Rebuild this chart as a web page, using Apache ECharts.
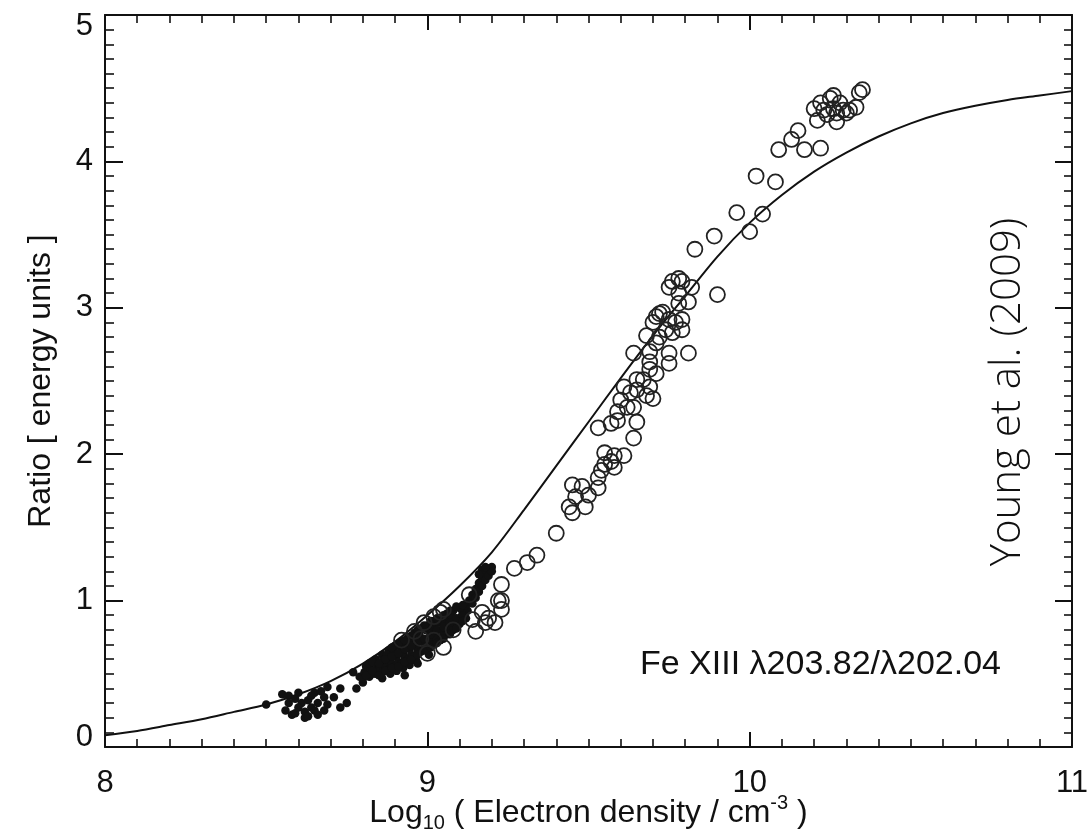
<!DOCTYPE html>
<html><head><meta charset="utf-8">
<script src="https://cdn.jsdelivr.net/npm/echarts@6/dist/echarts.min.js"></script>
<style>html,body{margin:0;padding:0;background:#fff}#c{width:1092px;height:832px}</style>
</head><body><div id="c"></div>
<script>
// Theoretical ratio curve (log10 Ne, ratio)
const curveX = [8.0,8.1,8.2,8.3,8.4,8.5,8.6,8.7,8.8,8.9,9.0,9.1,9.2,9.3,9.4,9.5,9.6,9.7,9.8,9.9,10.0,10.1,10.2,10.3,10.4,10.5,10.6,10.7,10.8,10.9,11.0];
const curveY = [0.08,0.11,0.15,0.19,0.24,0.29,0.36,0.45,0.57,0.72,0.90,1.10,1.33,1.62,1.92,2.22,2.52,2.81,3.08,3.35,3.58,3.77,3.93,4.06,4.17,4.26,4.33,4.38,4.42,4.45,4.48];

// Filled dots
const solidDots = [
 [8.50,0.29],[8.55,0.36],[8.57,0.35],[8.56,0.25],[8.58,0.22],[8.59,0.23],[8.60,0.37],[8.61,0.30],[8.62,0.24],[8.62,0.20],
 [8.63,0.32],[8.64,0.27],[8.65,0.25],[8.65,0.37],[8.66,0.30],[8.67,0.38],[8.68,0.34],[8.69,0.41],[8.69,0.29],[8.57,0.30],
 [8.60,0.27],[8.63,0.21],[8.66,0.22],[8.71,0.34],[8.73,0.40],[8.73,0.27],[8.75,0.30],[8.59,0.33],[8.64,0.35],[8.68,0.25],
 [8.78,0.40],[8.80,0.44],[8.77,0.51],[8.79,0.48],
 [8.80,0.47],[8.805,0.51],[8.81,0.55],
 [8.82,0.48],[8.825,0.53],[8.82,0.57],[8.83,0.50],
 [8.84,0.50],[8.845,0.55],[8.84,0.60],[8.85,0.53],[8.845,0.58],
 [8.86,0.51],[8.865,0.57],[8.86,0.63],[8.87,0.55],[8.865,0.60],[8.86,0.47],
 [8.88,0.53],[8.885,0.60],[8.88,0.66],[8.89,0.57],[8.875,0.63],[8.885,0.50],
 [8.90,0.55],[8.905,0.62],[8.90,0.69],[8.91,0.58],[8.895,0.66],[8.905,0.52],
 [8.92,0.57],[8.925,0.64],[8.92,0.72],[8.93,0.61],[8.915,0.69],[8.925,0.54],
 [8.94,0.60],[8.945,0.67],[8.94,0.75],[8.95,0.63],[8.935,0.71],[8.945,0.56],
 [8.96,0.62],[8.965,0.69],[8.96,0.78],[8.97,0.66],[8.955,0.74],[8.965,0.59],
 [8.98,0.65],[8.985,0.72],[8.98,0.81],[8.99,0.68],[8.975,0.77],
 [9.00,0.67],[9.005,0.74],[9.00,0.83],[9.01,0.71],[8.995,0.80],[9.005,0.63],
 [9.02,0.70],[9.025,0.77],[9.02,0.86],[9.03,0.74],[9.015,0.82],
 [9.04,0.73],[9.045,0.80],[9.04,0.88],[9.05,0.77],[9.035,0.85],
 [9.06,0.77],[9.065,0.83],[9.06,0.91],[9.07,0.80],[9.055,0.87],
 [9.08,0.80],[9.085,0.86],[9.08,0.93],[9.09,0.83],[9.075,0.90],
 [9.10,0.84],[9.105,0.89],[9.10,0.95],[9.11,0.92],
 [9.12,0.88],[9.125,0.93],[9.12,0.97],
 [8.81,0.49],[8.83,0.52],[8.83,0.58],[8.85,0.57],[8.85,0.49],[8.87,0.60],[8.87,0.52],[8.89,0.62],[8.89,0.54],[8.89,0.68],
 [8.91,0.64],[8.91,0.55],[8.91,0.70],[8.93,0.67],[8.93,0.58],[8.93,0.73],[8.95,0.69],[8.95,0.60],[8.95,0.76],[8.97,0.72],
 [8.97,0.63],[8.97,0.80],[8.99,0.74],[8.99,0.66],[8.99,0.83],[9.01,0.77],[9.01,0.68],[9.01,0.86],[9.03,0.80],[9.03,0.71],
 [9.03,0.88],[9.05,0.82],[9.05,0.74],[9.05,0.90],[9.07,0.85],[9.07,0.77],[9.07,0.93],[9.09,0.88],[9.09,0.81],[9.09,0.96],
 [9.11,0.90],[9.11,0.86],[9.11,0.97],
 [8.97,0.57],[8.93,0.49],
 [9.13,1.00],[9.14,1.04],[9.14,0.98],[9.15,1.08],[9.15,1.02],[9.16,1.12],[9.16,1.06],[9.17,1.16],[9.17,1.10],
 [9.18,1.19],[9.18,1.14],[9.19,1.22],[9.19,1.17],[9.20,1.23],[9.20,1.20],[9.17,1.21],[9.16,1.18],[9.18,1.23]
];

// Open circles
const openCircles = [
 [8.96,0.79],[8.92,0.73],[8.98,0.74],[8.99,0.85],[9.00,0.64],[9.02,0.89],[9.02,0.73],[9.04,0.92],[9.05,0.94],[9.05,0.68],
 [9.08,0.80],[9.13,1.04],[9.14,0.87],[9.15,0.79],[9.17,0.92],[9.18,0.85],[9.19,0.88],[9.21,0.85],[9.22,1.00],[9.23,1.00],
 [9.23,0.94],[9.23,1.11],[9.27,1.22],[9.31,1.26],[9.34,1.31],[9.40,1.46],
 [9.45,1.60],[9.44,1.64],[9.45,1.79],[9.46,1.71],[9.49,1.64],[9.48,1.78],[9.50,1.72],[9.53,1.77],[9.54,1.89],[9.53,1.84],
 [9.55,1.93],[9.55,2.01],[9.57,1.95],[9.58,1.99],[9.61,1.99],[9.58,1.91],[9.53,2.18],[9.57,2.21],[9.59,2.23],[9.59,2.29],
 [9.60,2.37],[9.64,2.11],[9.65,2.22],[9.61,2.46],[9.63,2.42],[9.65,2.44],[9.68,2.40],[9.70,2.38],[9.69,2.46],[9.64,2.32],[9.62,2.32],
 [9.65,2.51],[9.67,2.51],[9.71,2.55],[9.69,2.58],[9.69,2.63],[9.75,2.62],[9.81,2.69],[9.75,2.69],[9.69,2.70],[9.64,2.69],
 [9.71,2.76],[9.72,2.80],[9.68,2.81],[9.74,2.85],[9.76,2.83],[9.79,2.85],[9.79,2.92],[9.77,2.90],[9.75,2.92],[9.70,2.90],
 [9.73,2.97],[9.71,2.94],[9.72,2.96],[9.78,3.03],[9.81,3.04],[9.78,3.10],[9.75,3.14],[9.82,3.14],[9.79,3.18],[9.76,3.18],
 [9.78,3.20],[9.90,3.09],[9.83,3.40],[9.89,3.49],[10.00,3.52],[10.04,3.64],[9.96,3.65],[10.08,3.86],[10.02,3.90],
 [10.09,4.08],[10.17,4.08],[10.22,4.09],[10.13,4.15],[10.15,4.21],[10.21,4.28],[10.27,4.27],[10.24,4.32],[10.27,4.33],[10.30,4.33],
 [10.20,4.36],[10.23,4.35],[10.26,4.36],[10.29,4.35],[10.31,4.35],[10.33,4.37],[10.22,4.40],[10.28,4.40],[10.25,4.43],[10.34,4.47],
 [10.35,4.49],[10.26,4.45]
];

const xTitle = '{n|Log}{sub|10}{n| ( Electron density / cm}{sup|-3}{n| )}';
const yTitle = 'Ratio [ energy units ]';
const lineLabel = 'Fe XIII \u03bb203.82/\u03bb202.04';
const citeLabel = 'Young et al. (2009)';

const FONT = '"Liberation Sans", Arial, Helvetica, sans-serif';
const INK = '#111';
const chart = echarts.init(document.getElementById('c'), null, {renderer: 'canvas'});

const tickCommon = (len, mlen) => ({
  axisLine: {show: true, onZero: false, lineStyle: {color: INK, width: 2}},
  axisTick: {show: true, inside: true, length: len, lineStyle: {color: INK, width: 2}},
  minorTick: {show: true, splitNumber: 10, length: mlen, lineStyle: {color: INK, width: 1.6}},
  splitLine: {show: false}
});

chart.setOption({
  animation: false,
  backgroundColor: '#fff',
  grid: {left: 105, right: 20, top: 15, bottom: 85, containLabel: false, outerBoundsMode: 'none'},
  xAxis: [
    Object.assign({
      type: 'value', min: 8, max: 11, interval: 1, position: 'bottom',
      axisLabel: {fontSize: 31, color: INK, fontFamily: FONT, margin: 21},
      name: xTitle, nameLocation: 'middle', nameGap: 46, nameMoveOverlap: false,
      nameTextStyle: {
        fontFamily: FONT, color: INK,
        rich: {
          n: {fontSize: 32, fontFamily: FONT, color: INK, lineHeight: 40, verticalAlign: 'middle'},
          sub: {fontSize: 20, fontFamily: FONT, color: INK, lineHeight: 20, verticalAlign: 'bottom'},
          sup: {fontSize: 20, fontFamily: FONT, color: INK, lineHeight: 20, verticalAlign: 'top'}
        }
      }
    }, tickCommon(15, 8)),
    Object.assign({
      type: 'value', min: 8, max: 11, interval: 1, position: 'top',
      axisLabel: {show: false}
    }, tickCommon(15, 8))
  ],
  yAxis: [
    Object.assign({
      type: 'value', min: 0, max: 5, interval: 1, position: 'left',
      axisLabel: {
        fontSize: 31, color: INK, fontFamily: FONT, margin: 12,
        formatter: v => v === 5 ? '{t|5}' : (v === 0 ? '{b|0}' : String(v)),
        rich: {
          t: {fontSize: 31, fontFamily: FONT, color: INK, padding: [22, 0, 0, 0]},
          b: {fontSize: 31, fontFamily: FONT, color: INK, padding: [0, 0, 20, 0]}
        }
      },
      name: yTitle, nameLocation: 'middle', nameGap: 48, nameMoveOverlap: false,
      nameTextStyle: {fontSize: 32, fontFamily: FONT, color: INK}
    }, tickCommon(18, 9)),
    Object.assign({
      type: 'value', min: 0, max: 5, interval: 1, position: 'right',
      axisLabel: {show: false}
    }, tickCommon(17, 8))
  ],
  series: [
    {
      type: 'line', xAxisIndex: 0, yAxisIndex: 0,
      data: curveX.map((x, i) => [x, curveY[i]]),
      smooth: 0.3, symbol: 'none',
      lineStyle: {color: INK, width: 2}, z: 2
    },
    {
      type: 'scatter', xAxisIndex: 0, yAxisIndex: 0,
      data: solidDots, symbol: 'circle', symbolSize: 8.5,
      itemStyle: {color: INK, opacity: 1}, z: 3
    },
    {
      type: 'scatter', xAxisIndex: 0, yAxisIndex: 0,
      data: openCircles, symbol: 'circle', symbolSize: 15,
      itemStyle: {color: 'rgba(0,0,0,0)', borderColor: '#222', borderWidth: 1.8, opacity: 1}, z: 4
    }
  ],
  graphic: [
    {
      type: 'text', x: 640, y: 665, z: 10,
      style: {text: lineLabel, font: '34px ' + FONT, fill: INK, align: 'left', verticalAlign: 'middle'}
    },
    {
      type: 'text', x: 1008, y: 392, rotation: Math.PI / 2, z: 10,
      style: {text: citeLabel, font: '300 42px "Open Sans", sans-serif', fill: '#111', align: 'center', verticalAlign: 'middle'}
    }
  ]
});
</script>
</body></html>
